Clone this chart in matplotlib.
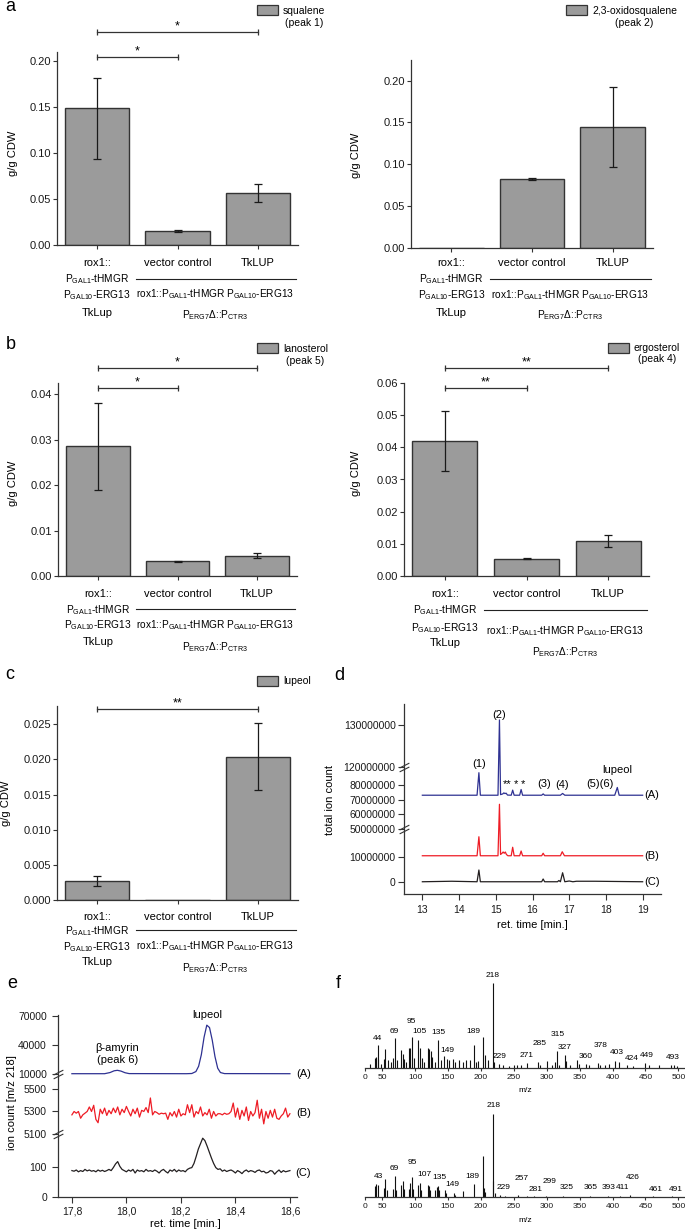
import numpy as np
import matplotlib
matplotlib.use('Agg')
import matplotlib.pyplot as plt
from matplotlib import transforms
from matplotlib.patches import Rectangle
from matplotlib.path import Path
from matplotlib.ticker import FormatStrFormatter, NullLocator

plt.rcParams['font.family'] = ['Liberation Sans', 'DejaVu Sans']
plt.rcParams['mathtext.fontset'] = 'custom'
plt.rcParams['mathtext.rm'] = 'Liberation Sans'
plt.rcParams['mathtext.it'] = 'Liberation Sans:italic'
plt.rcParams['mathtext.bf'] = 'Liberation Sans:bold'
plt.rcParams['font.size'] = 8
plt.rcParams['axes.edgecolor'] = '#333333'
plt.rcParams['axes.linewidth'] = 0.9
plt.rcParams['xtick.color'] = '#333333'
plt.rcParams['ytick.color'] = '#333333'
plt.rcParams['xtick.labelcolor'] = '#1a1a1a'
plt.rcParams['ytick.labelcolor'] = '#1a1a1a'

W, H = 685, 1229

# ---- bar chart data (g/g CDW) ----
strains = ['rox1::', 'vector control', 'TkLUP']
squalene = [0.1484, 0.0155, 0.0563]
squalene_err = [[0.055, 0.001, 0.0097], [0.033, 0.001, 0.0101]]
oxidosqualene = [0.0, 0.0825, 0.1446]
oxidosqualene_err = [0.0, 0.001, 0.048]
lanosterol = [0.0286, 0.0032, 0.0045]
lanosterol_err = [0.0096, 0.0001, 0.0006]
ergosterol = [0.0419, 0.0054, 0.0108]
ergosterol_err = [0.0093, 0.0001, 0.0018]
lupeol = [0.0027, 0.0, 0.0204]
lupeol_err = [0.0007, 0.0, 0.0048]

# significance brackets: (from bar, to bar, height, stars)
sig_squalene = [(0, 1, 0.2046, '*'), (0, 2, 0.2318, '*')]
sig_lanosterol = [(0, 1, 0.0414, '*'), (0, 2, 0.0458, '*')]
sig_ergosterol = [(0, 1, 0.0584, '**'), (0, 2, 0.0647, '**')]
sig_lupeol = [(0, 2, 0.0272, '**')]

# ---- d: total ion chromatograms ----
tic_a_t = [13.0, 14.49, 14.54, 14.58, 15.06, 15.10, 15.13, 15.19, 15.22, 15.25, 15.28, 15.32, 15.42, 15.46,
           15.50, 15.65, 15.69, 15.73, 16.25, 16.29, 16.33, 16.76, 16.82, 16.88, 18.24, 18.31, 18.36, 19.0]
tic_a = [7.31e7, 7.31e7, 8.85e7, 7.31e7, 7.31e7, 1.312e8, 7.35e7, 7.4e7, 7.47e7, 7.42e7, 7.45e7, 7.32e7, 7.31e7,
         7.66e7, 7.31e7, 7.31e7, 7.7e7, 7.31e7, 7.31e7, 7.4e7, 7.31e7, 7.31e7, 7.43e7, 7.31e7, 7.31e7, 7.84e7,
         7.31e7, 7.31e7]
tic_b_t = [13.0, 14.49, 14.54, 14.58, 15.06, 15.10, 15.13, 15.17, 15.20, 15.23, 15.26, 15.29, 15.33, 15.42, 15.46,
           15.50, 15.65, 15.69, 15.73, 16.25, 16.29, 16.33, 16.76, 16.81, 16.87, 19.0]
tic_b = [1.05e7, 1.05e7, 1.81e7, 1.05e7, 1.05e7, 6.69e7, 1.1e7, 1.15e7, 1.2e7, 1.15e7, 1.2e7, 1.1e7, 1.05e7,
         1.05e7, 1.39e7, 1.05e7, 1.05e7, 1.24e7, 1.05e7, 1.05e7, 1.15e7, 1.05e7, 1.05e7, 1.21e7, 1.05e7, 1.05e7]
tic_c_t = [13.0, 13.8, 14.49, 14.54, 14.58, 16.25, 16.29, 16.33, 16.68, 16.72, 16.76, 16.82, 16.88, 17.0, 17.1,
           17.2, 17.7, 19.0]
tic_c = [1e5, 3e5, 1e5, 4.8e6, 1e5, 1e5, 1.2e6, 1e5, 1e5, 6e5, 1e5, 3.7e6, 1e5, 4e5, 1e5, 3e5, 3e5, 1e5]
tic_ticks = [0, 1e7, 5e7, 6e7, 7e7, 8e7, 1.2e8, 1.3e8]
tic_labels = [('(1)', 14.54, 1.207e8), ('(2)', 15.09, 1.324e8), ('**', 15.30, 8.1e7), ('*', 15.54, 8.1e7),
              ('*', 15.73, 8.1e7), ('(3)', 16.32, 8.05e7), ('(4)', 16.81, 8.0e7), ('(5)(6)', 17.84, 8.05e7),
              ('lupeol', 18.31, 9.01e7)]

# ---- e: extracted ion chromatograms m/z 218 ----
ion_a_t = [17.8, 17.92, 17.94, 17.955, 17.967, 17.98, 17.995, 18.01, 18.22, 18.24, 18.255, 18.265, 18.275,
           18.285, 18.295, 18.305, 18.315, 18.325, 18.335, 18.345, 18.36, 18.6]
ion_a = [10300, 10300, 11500, 13300, 13800, 13000, 11300, 10400, 10300, 10500, 12500, 18000, 30000, 48000,
         60500, 58000, 45000, 28000, 16000, 11500, 10400, 10300]
ion_b = [5270, 5300, 5285, 5300, 5240, 5270, 5285, 5300, 5340, 5300, 5355, 5230, 5200, 5320, 5280, 5330, 5265,
         5310, 5280, 5330, 5290, 5340, 5270, 5320, 5290, 5345, 5300, 5260, 5320, 5280, 5330, 5250, 5310, 5300,
         5335, 5290, 5420, 5270, 5300, 5290, 5275, 5285, 5280, 5285, 5230, 5290, 5260, 5300, 5250, 5320, 5260,
         5280, 5270, 5360, 5290, 5360, 5250, 5300, 5280, 5340, 5260, 5290, 5270, 5320, 5240, 5300, 5260, 5280,
         5280, 5270, 5285, 5275, 5280, 5300, 5375, 5250, 5330, 5230, 5310, 5260, 5340, 5220, 5300, 5260, 5290,
         5400, 5240, 5320, 5190, 5300, 5240, 5310, 5250, 5320, 5240, 5230, 5260, 5280, 5330, 5250, 5280]
ion_c = [88, 86, 90, 84, 88, 85, 92, 87, 90, 86, 88, 84, 90, 86, 89, 85, 88, 92, 88, 98, 110, 118, 102, 92, 88,
         84, 90, 86, 92, 80, 90, 86, 88, 84, 92, 86, 88, 85, 90, 86, 80, 88, 92, 85, 80, 90, 86, 92, 84, 90, 86,
         88, 84, 92, 96, 98, 112, 135, 160, 178, 196, 188, 170, 150, 130, 112, 98, 92, 94, 86, 90, 85, 88, 90,
         86, 80, 88, 84, 78, 86, 90, 84, 88, 86, 82, 88, 90, 84, 86, 80, 82, 88, 86, 76, 84, 90, 82, 88, 84, 86,
         88]
ion_t = np.round(17.8 + 0.008 * np.arange(len(ion_b)), 3)
ion_ticks = [0, 100, 5100, 5300, 5500, 10000, 40000, 70000]
ret_ticks = [17.8, 18.0, 18.2, 18.4, 18.6]
ret_labels = ['17,8', '18,0', '18,2', '18,4', '18,6']

# ---- f: mass spectra (relative intensity, %) ----
ms_top_mz = [31, 39, 41, 43, 44, 49, 53, 55, 59, 64, 67, 69, 73, 78, 81, 83, 87, 91, 93, 95, 99, 105, 107, 110,
             113, 119, 121, 124, 126, 130, 135, 139, 144, 148, 151, 157, 161, 167, 173, 177, 183, 189, 192, 196,
             203, 207, 211, 218, 220, 228, 234, 242, 251, 255, 261, 270, 286, 290, 300, 308, 313, 315, 319, 327,
             329, 336, 346, 349, 359, 364, 378, 381, 388, 394, 403, 410, 422, 431, 449, 455, 471, 488, 493, 498]
ms_top = [5, 12, 13, 11, 27, 5, 11, 22, 10, 7, 12, 35, 9, 21, 17, 11, 7, 23, 23, 36, 12, 33, 23, 12, 7, 24, 22,
          20, 13, 7, 33, 10, 14, 11, 9, 11, 7, 9, 7, 9, 10, 27, 7, 8, 36, 15, 9, 100, 7, 5, 3, 2, 3, 4, 4, 6, 7,
          4, 8, 3, 7, 20, 4, 15, 8, 3, 9, 5, 5, 3, 6, 4, 4, 5, 8, 7, 3, 2, 6, 4, 3, 3, 4, 2]
ms_top_labels = [('44', 43, 35), ('69', 68, 43), ('95', 94, 55), ('105', 106, 43), ('135', 135, 42),
                 ('149', 149, 21), ('189', 189, 43), ('218', 218, 109), ('229', 229, 14), ('271', 270, 15),
                 ('285', 289, 29), ('315', 317, 39), ('327', 327, 24), ('360', 359, 14), ('378', 382, 26),
                 ('403', 407, 18), ('424', 429, 11), ('449', 452, 15), ('493', 492, 12)]
ms_bot_mz = [39, 41, 43, 53, 55, 57, 67, 69, 71, 79, 81, 83, 91, 93, 95, 97, 105, 107, 109, 119, 121, 123, 131,
             133, 135, 137, 145, 147, 159, 161, 173, 189, 203, 205, 207, 218, 219, 221, 229, 236, 257, 270, 281,
             299, 325, 365, 393, 411, 426, 461, 491]
ms_bot = [13, 16, 15, 11, 22, 8, 10, 25, 8, 14, 19, 10, 10, 17, 24, 10, 14, 17, 8, 15, 13, 8, 9, 12, 13, 8, 8,
          5, 5, 3, 7, 16, 50, 11, 6, 100, 19, 5, 2, 1.5, 2.5, 1, 1, 1, 1, 1, 1, 1, 3, 0.8, 0.8]
ms_bot_labels = [('43', 44, 25), ('69', 69, 34), ('95', 96, 41), ('107', 114, 27), ('135', 137, 23),
                 ('149', 157, 15), ('189', 187, 25), ('218', 219, 110), ('229', 235, 11), ('257', 262, 22),
                 ('281', 283, 9), ('299', 305, 19), ('325', 331, 11), ('365', 366, 11), ('393', 394, 11),
                 ('411', 415, 11), ('426', 431, 23), ('461', 465, 9), ('491', 496, 9)]
mz_ticks = [24, 50, 100, 150, 200, 250, 300, 350, 400, 450, 500]
mz_labels = ['0', '50', '100', '150', '200', '250', '300', '350', '400', '450', '500']

GAL1 = r'P$_{\mathrm{GAL1}}$-tHMGR'
GAL10 = r'P$_{\mathrm{GAL10}}$-ERG13'
ROX = r'rox1::P$_{\mathrm{GAL1}}$-tHMGR P$_{\mathrm{GAL10}}$-ERG13'
PERG = r'P$_{\mathrm{ERG7}}$Δ::P$_{\mathrm{CTR3}}$'

GRAY = '#9b9b9b'
EDGE = '#333333'
BLUE = '#2e3192'
RED = '#ee1c25'
DARK = '#231f20'
MATH_FS = 7.3
MS_FS = 6

fig = plt.figure(figsize=(W / 100, H / 100), dpi=100)


def fy(y):
    return 1 - y / H


def px_axes(l, t, r, b):
    ax = fig.add_axes([l / W, fy(b), (r - l) / W, (b - t) / H])
    ax.spines[['top', 'right']].set_visible(False)
    return ax


def ftext(x, y, s, **kw):
    fig.text(x / W, fy(y), s, **kw)


def label_at(ax, axis, x, y):
    bb = ax.get_position()
    lab = ax.yaxis if axis == 'y' else ax.xaxis
    lab.set_label_coords((x / W - bb.x0) / bb.width, (fy(y) - bb.y0) / bb.height)
    lab.label.set_verticalalignment('center')


def legend_box(x, y, label, ty):
    fig.add_artist(Rectangle((x / W, fy(y + 10)), 21 / W, 10 / H, transform=fig.transFigure,
                             facecolor=GRAY, edgecolor=EDGE, lw=0.9))
    ftext(x + 26, ty, label, ha='left', va='center', fontsize=7.5, multialignment='center', linespacing=1.2)


def bar_panel(rect, vals, err, ylim, yticks, fmt, ylab, rows, sig):
    ax = px_axes(*rect)
    x = np.arange(len(strains))
    vals = np.array(vals)
    ax.bar(x, vals, width=0.8, color=GRAY, edgecolor=EDGE, linewidth=1.0, zorder=2)
    err = np.array(err, dtype=float)
    if err.ndim == 1:
        err = np.vstack([err, err])
    keep = err.sum(axis=0) > 0
    ax.errorbar(x[keep], vals[keep], yerr=err[:, keep], fmt='none', ecolor='#1a1a1a',
                elinewidth=0.9, capsize=3, capthick=0.9, zorder=3)
    ax.set_xlim(-0.5, 2.5)
    ax.set_ylim(*ylim)
    ax.set_yticks(yticks)
    ax.yaxis.set_major_formatter(FormatStrFormatter(fmt))
    ax.set_xticks(x)
    ax.set_xticklabels([])
    ax.tick_params(axis='y', length=3, pad=1, labelsize=8)
    ax.tick_params(axis='x', length=3)
    ax.set_ylabel('g/g CDW', fontsize=8)
    label_at(ax, 'y', *ylab)

    blend = transforms.blended_transform_factory(ax.transData, fig.transFigure)
    r1, g1, g10, tk, line_y, rox_y, perg_y = rows
    for xi, name in zip(x, strains):
        ax.text(xi, fy(r1), name, transform=blend, ha='center', va='center')
    ax.text(0, fy(g1), GAL1, transform=blend, ha='center', va='center', fontsize=MATH_FS)
    ax.text(0, fy(g10), GAL10, transform=blend, ha='center', va='center', fontsize=MATH_FS)
    ax.text(0, fy(tk), 'TkLup', transform=blend, ha='center', va='center')
    ax.plot([0.48, 2.48], [fy(line_y)] * 2, transform=blend, color='#222222', lw=0.8, clip_on=False)
    ax.text(1.47, fy(rox_y), ROX, transform=blend, ha='center', va='center', fontsize=MATH_FS)
    ax.text(1.47, fy(perg_y), PERG, transform=blend, ha='center', va='center', fontsize=MATH_FS)

    for i0, i1, yb, s in sig:
        ax.plot([i0, i1], [yb, yb], color=EDGE, lw=0.9, marker='|', ms=5, mew=0.9, clip_on=False)
        ax.annotate(s, xy=((i0 + i1) / 2, yb), xytext=(0, -0.5), textcoords='offset points',
                    ha='center', va='bottom', fontsize=9, annotation_clip=False)
    return ax


brk = Path([(-1, -0.9), (1, 0.1), (-1, -0.1), (1, 0.9)], [Path.MOVETO, Path.LINETO, Path.MOVETO, Path.LINETO])


def broken_scale(ax, real, disp, breaks):
    ax.set_yscale('function', functions=(lambda y: np.interp(y, real, disp),
                                         lambda d: np.interp(d, disp, real)))
    ax.yaxis.set_minor_locator(NullLocator())
    ax.plot([0] * len(breaks), breaks, transform=ax.get_yaxis_transform(), ls='none', marker=brk, ms=7,
            mec=EDGE, mew=0.8, clip_on=False)


# ---- a ----
bar_panel((57, 52, 298, 245), squalene, squalene_err, (0, 0.2098), [0, 0.05, 0.10, 0.15, 0.20], '%.2f',
          (13, 153), (263, 279, 295, 313, 279, 294, 315), sig_squalene)
legend_box(257, 5, 'squalene\n(peak 1)', 16.7)
bar_panel((411, 60, 653, 248), oxidosqualene, oxidosqualene_err, (0, 0.2247), [0, 0.05, 0.10, 0.15, 0.20],
          '%.2f', (356, 155), (263, 279, 295, 313, 279, 295, 315), [])
legend_box(566, 5, '2,3-oxidosqualene\n(peak 2)', 16.7)

# ---- b ----
bar_panel((58, 383, 297, 576), lanosterol, lanosterol_err, (0, 0.0425), [0, 0.01, 0.02, 0.03, 0.04], '%.2f',
          (13, 483), (594, 610, 625, 642, 609, 625, 647), sig_lanosterol)
legend_box(257, 343, 'lanosterol\n(peak 5)', 355)
bar_panel((404, 383, 649, 576), ergosterol, ergosterol_err, (0, 0.06),
          [0, 0.01, 0.02, 0.03, 0.04, 0.05, 0.06], '%.2f',
          (356, 473), (594, 610, 628, 643, 610, 631, 652), sig_ergosterol)
legend_box(608, 343, 'ergosterol\n(peak 4)', 353.3)

# ---- c ----
bar_panel((57, 706, 298, 900), lupeol, lupeol_err, (0, 0.0276), [0, 0.005, 0.010, 0.015, 0.020, 0.025],
          '%.3f', (6, 803), (917, 931, 947, 962, 930, 946, 968), sig_lupeol)
legend_box(257, 676, 'lupeol', 680.7)

# ---- d ----
axd = px_axes(404, 704, 661, 894)
broken_scale(axd, [-4.8e6, 2.12e7, 5.0e7, 9.24e7, 1.2e8, 1.35e8], [0, 65, 65.01, 127, 127.01, 190],
             [5.0e7, 1.2e8])
axd.plot(tic_a_t, tic_a, color=BLUE, lw=0.9)
axd.plot(tic_b_t, tic_b, color=RED, lw=0.9)
axd.plot(tic_c_t, tic_c, color=DARK, lw=0.9)
axd.set_ylim(-4.8e6, 1.35e8)
axd.set_xlim(12.5, 19.5)
axd.set_xticks(range(13, 20))
axd.set_yticks(tic_ticks)
axd.set_yticklabels([str(int(t)) for t in tic_ticks])
axd.tick_params(axis='y', length=4, pad=2, labelsize=7.5)
axd.tick_params(axis='x', length=4, pad=4, labelsize=7.5)
for s, tx, ty in tic_labels:
    axd.text(tx, ty, s, ha='center', va='center', fontsize=8)
for s, ty in [('(A)', 7.31e7), ('(B)', 1.05e7), ('(C)', 1e5)]:
    axd.text(19.25, ty, s, ha='center', va='center', fontsize=8, clip_on=False)
axd.set_ylabel('total ion count', fontsize=8)
label_at(axd, 'y', 330, 800)
axd.set_xlabel('ret. time [min.]', fontsize=8)
label_at(axd, 'x', 532, 925)

# ---- e ----
axe = px_axes(58, 1015, 297, 1197)
broken_scale(axe, [0, 210, 5100, 5633, 10000, 71000], [0, 63, 63.01, 123, 123.01, 182], [5100, 10000])
axe.plot(ion_a_t, ion_a, color=BLUE, lw=0.9)
axe.plot(ion_t, ion_b, color=RED, lw=0.9)
axe.plot(ion_t, ion_c, color=DARK, lw=0.9)
axe.set_ylim(0, 71000)
axe.set_xlim(17.749, 18.626)
axe.set_xticks(ret_ticks)
axe.set_xticklabels(ret_labels)
axe.set_yticks(ion_ticks)
axe.set_yticklabels([str(t) for t in ion_ticks])
axe.tick_params(axis='y', length=4, pad=4, labelsize=7.5)
axe.tick_params(axis='x', length=4, pad=3, labelsize=7.5)
axe.text(18.298, 71000, 'lupeol', ha='center', va='center', fontsize=8)
axe.text(17.967, 36600, 'β-amyrin', ha='center', va='center', fontsize=8)
axe.text(17.967, 24500, '(peak 6)', ha='center', va='center', fontsize=8)
for s, ty in [('(A)', 10000), ('(B)', 5284), ('(C)', 80)]:
    axe.text(18.649, ty, s, ha='center', va='center', fontsize=8, clip_on=False)
axe.set_ylabel('ion count [m/z 218]', fontsize=8)
label_at(axe, 'y', 12, 1103)
axe.set_xlabel('ret. time [min.]', fontsize=8)
label_at(axe, 'x', 185, 1224)

# ---- f ----
for rect, mz, inten, labs, xl_y in [((365, 983, 685, 1068), ms_top_mz, ms_top, ms_top_labels, 1091),
                                     ((365, 1114, 685, 1197), ms_bot_mz, ms_bot, ms_bot_labels, 1221)]:
    axf = px_axes(*rect)
    axf.spines['left'].set_visible(False)
    axf.vlines(mz, 0, inten, color='#111111', lw=0.8)
    axf.set_xlim(24, 510)
    axf.set_ylim(0, 100)
    axf.set_yticks([])
    axf.set_xticks(mz_ticks)
    axf.set_xticklabels(mz_labels)
    axf.tick_params(axis='x', length=2, pad=2, labelsize=MS_FS)
    for s, tx, ty in labs:
        axf.text(tx, ty, s, ha='center', va='center', fontsize=MS_FS, clip_on=False)
    axf.set_xlabel('m/z', fontsize=MS_FS)
    label_at(axf, 'x', 525, xl_y)

# ---- panel letters ----
for s, x, y in [('a', 10, 11), ('b', 11, 349), ('c', 10, 679), ('d', 339, 680), ('e', 12, 988), ('f', 338, 988)]:
    ftext(x, y, s, fontsize=13, ha='center', va='baseline')

fig.savefig('out.png', dpi=100)
